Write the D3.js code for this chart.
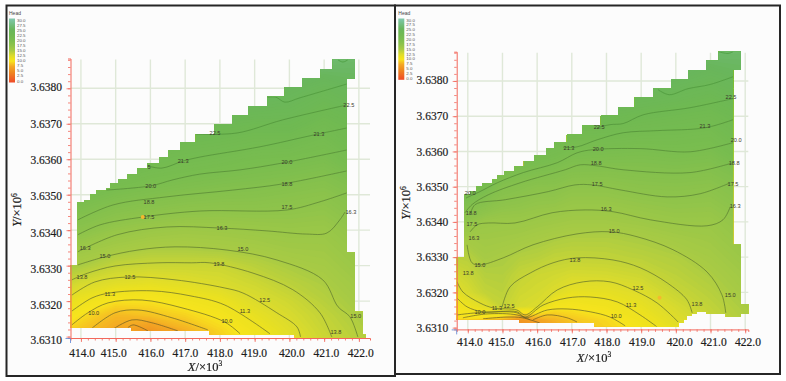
<!DOCTYPE html>
<html>
<head>
<meta charset="utf-8">
<script src="https://cdn.jsdelivr.net/npm/d3@7"></script>
<style>
  html, body { margin: 0; padding: 0; background: #fff; }
  svg { display: block; filter: blur(0.3px); }
</style>
</head>
<body>
<svg id="chart" width="786" height="381"></svg>
<script>
// axis ticks
const xTicks = [414, 415, 416, 417, 418, 419, 420, 421, 422]
const yTicks = [3.631, 3.632, 3.633, 3.634, 3.635, 3.636, 3.637, 3.638]
const legendValues = [30, 27.5, 25, 22.5, 20, 17.5, 15, 12.5, 10, 7.5, 5, 2.5, 0]

// head colour ramp
const headStops = [0, 5, 7.5, 8.75, 10, 11.3, 12.5, 13.8, 15, 17.5, 20, 22.5, 25, 30]
const headColors = ["#ef4a28", "#ef8a20", "#f4a824", "#f6c522", "#f7e41d", "#ece11f", "#dcdc2c", "#c2d338", "#a8cb44", "#8dc34b", "#79bd4f", "#6fb952", "#69b65c", "#80c8ae"]

// model boundary, stepped [x, y]
const leftOutline = [[413.70,3.63125],[413.70,3.63302],[413.90,3.63478],[414.09,3.63485],[414.28,3.63502],[414.45,3.63511],[414.74,3.63519],[414.85,3.63532],[415.07,3.63544],[415.33,3.63558],[415.62,3.63573],[415.92,3.63589],[416.25,3.63606],[416.51,3.63625],[416.86,3.63648],[417.31,3.63671],[417.85,3.63699],[418.35,3.63724],[418.81,3.63750],[419.37,3.63776],[419.87,3.63803],[420.37,3.63828],[420.90,3.63854],[421.25,3.63881],[421.88,3.63828],[421.65,3.63337],[421.88,3.63170],[422.11,3.63105],[422.32,3.63097],[420.16,3.63105],[417.69,3.63116],[415.46,3.63125],[413.70,3.63125]]
const rightOutline = [[413.68,3.63124],[413.68,3.63300],[413.89,3.63477],[414.07,3.63488],[414.26,3.63501],[414.43,3.63510],[414.71,3.63520],[414.85,3.63531],[415.06,3.63543],[415.34,3.63557],[415.62,3.63573],[415.91,3.63590],[416.26,3.63608],[416.50,3.63627],[416.86,3.63648],[417.31,3.63674],[417.84,3.63701],[418.34,3.63726],[418.82,3.63753],[419.35,3.63778],[419.86,3.63805],[420.35,3.63831],[420.88,3.63857],[421.24,3.63883],[421.87,3.63831],[421.65,3.63335],[421.87,3.63167],[422.09,3.63139],[421.87,3.63131],[421.44,3.63139],[420.89,3.63145],[420.61,3.63139],[420.46,3.63133],[420.32,3.63124],[420.22,3.63113],[420.07,3.63103],[417.64,3.63113],[415.49,3.63124],[413.68,3.63124]]

// head field
const gridY = [3.6308, 3.6312, 3.6316, 3.632, 3.6325, 3.633, 3.6335, 3.634, 3.635, 3.636, 3.637, 3.638, 3.639]
const leftGridX = [413.6, 414, 415, 416, 417, 418, 419, 420, 421, 422.2]
const leftHead = [
  [9, 8, 7, 5.5, 7.5, 9, 10.5, 12, 13.3, 14.5],
  [9.5, 8.8, 7.5, 6.3, 8, 9.5, 11, 12.3, 13.6, 14.8],
  [10.8, 9.9, 8.3, 8.75, 9.4, 10.4, 11.7, 12.8, 13.9, 15.2],
  [11.9, 11.2, 10, 10, 10.7, 11.3, 12.5, 13.3, 14.4, 15.6],
  [13.5, 12.9, 12.2, 11.9, 12.2, 12.7, 13.3, 14.2, 14.9, 16],
  [15.2, 15, 13.8, 13.5, 13.5, 13.5, 14.3, 15, 15.4, 16.5],
  [15.8, 16.2, 15.5, 15, 15, 15.2, 15.4, 15.8, 15.9, 17],
  [17, 17.8, 16.8, 16.3, 16, 16.1, 16.3, 16.5, 16.4, 17.5],
  [21, 20.5, 19.7, 19.2, 18.8, 18.5, 18.4, 18.1, 17.8, 19],
  [23, 23, 23, 21.8, 21.3, 20.9, 20.4, 20.2, 19.8, 21.5],
  [25, 25, 25, 25, 23.3, 23.2, 22.8, 22.9, 21.8, 23],
  [26, 26, 26, 26, 27, 26.5, 25.8, 25, 24, 25],
  [27, 27, 27, 27, 27, 27, 27, 27, 27, 26]
]
const rightGridX = [413.6, 414, 414.5, 415, 415.5, 416, 416.5, 417, 418, 419, 420, 421, 422.2]
const rightHead = [
  [9, 9.2, 9, 7.5, 5, 6, 7, 8, 9.2, 10.3, 11.5, 13.2, 14.5],
  [9.6, 9.6, 9.2, 8, 6, 7, 8, 8.8, 9.6, 10.9, 12.3, 13.6, 14.9],
  [10.7, 11.3, 12.2, 13.8, 12.9, 12.6, 10.4, 10.3, 10.8, 11.7, 12.9, 14, 15.2],
  [11.8, 12.8, 13.9, 14.2, 13.3, 13, 12.5, 11.7, 11.8, 12.4, 13.6, 14.4, 15.6],
  [13, 13.6, 14.5, 14.6, 13.8, 13.4, 13.2, 12.9, 13, 13.4, 14.2, 14.9, 16],
  [14.2, 14.4, 15.3, 15, 14.6, 14.4, 14, 13.9, 14, 14.3, 14.7, 15.4, 16.5],
  [15.2, 15.5, 15.8, 15.7, 15.5, 15.2, 14.9, 14.7, 14.7, 15, 15.5, 15.9, 17],
  [17, 17.2, 16.4, 16.3, 16.3, 16.1, 15.9, 15.7, 15.7, 16, 16.4, 16.4, 17.5],
  [21, 21.2, 20.3, 18.8, 18.4, 18, 18, 17.5, 17.5, 17.9, 18, 17.8, 19],
  [23, 23.5, 22.8, 22, 21.6, 21.3, 20.8, 20.2, 20, 19.8, 20, 19.8, 21.5],
  [25, 25, 25, 24.5, 24, 23.6, 23.3, 23, 23, 22.5, 22.1, 21.8, 23],
  [26, 26, 26, 26, 26, 25.8, 25.6, 25.5, 25.5, 25.3, 24.8, 24, 25],
  [27, 27, 27, 27, 27, 27, 27, 27, 27, 27, 27, 26.5, 26]
]

// contour lines [x, y]
const leftContours = [
  [[421.40,3.63880],[421.54,3.63874],[421.68,3.63880]],
  [[419.35,3.63775],[419.61,3.63775],[419.87,3.63761],[420.30,3.63773],[421.65,3.63812]],
  [[417.31,3.63671],[418.49,3.63674],[419.81,3.63711],[421.65,3.63753]],
  [[415.93,3.63581],[416.33,3.63575],[416.94,3.63595],[417.42,3.63606],[419.15,3.63635],[420.68,3.63668],[421.65,3.63688]],
  [[414.72,3.63513],[416.01,3.63525],[416.65,3.63542],[417.42,3.63558],[418.58,3.63570],[419.78,3.63589],[421.65,3.63626]],
  [[413.91,3.63429],[414.92,3.63471],[416.47,3.63494],[418.37,3.63513],[419.78,3.63530],[421.65,3.63567]],
  [[413.91,3.63387],[414.55,3.63415],[415.78,3.63437],[417.42,3.63454],[419.93,3.63457],[420.88,3.63480],[421.65,3.63505]],
  [[413.91,3.63339],[415.04,3.63387],[416.47,3.63409],[418.00,3.63406],[419.35,3.63398],[420.50,3.63389],[421.08,3.63392],[421.45,3.63429],[421.60,3.63451]],
  [[413.91,3.63302],[414.69,3.63325],[415.64,3.63344],[416.71,3.63353],[418.20,3.63344],[419.64,3.63316],[420.96,3.63260],[421.40,3.63184],[421.74,3.63156],[421.97,3.63099]],
  [[413.74,3.63260],[414.20,3.63279],[414.98,3.63299],[416.22,3.63308],[417.19,3.63308],[417.71,3.63308],[418.95,3.63279],[420.10,3.63232],[420.88,3.63167],[421.22,3.63099]],
  [[413.74,3.63217],[414.40,3.63254],[415.35,3.63268],[416.71,3.63260],[418.14,3.63237],[418.66,3.63223],[419.64,3.63167],[420.22,3.63127],[420.32,3.63099]],
  [[413.74,3.63172],[414.32,3.63209],[414.83,3.63223],[416.04,3.63229],[417.14,3.63215],[418.14,3.63189],[419.44,3.63108]],
  [[413.74,3.63133],[414.20,3.63167],[414.78,3.63195],[415.76,3.63203],[416.91,3.63181],[418.14,3.63141],[418.58,3.63108]],
  [[414.26,3.63119],[414.98,3.63167],[415.64,3.63175],[416.62,3.63153],[417.65,3.63119]],
  [[414.89,3.63119],[415.47,3.63147],[416.04,3.63139],[416.79,3.63116]],
  [[415.35,3.63125],[415.50,3.63133],[415.93,3.63116]]
]
const rightContours = [
  [[421.23,3.63883],[421.51,3.63878],[421.65,3.63883]],
  [[419.49,3.63775],[419.81,3.63761],[420.35,3.63778],[420.99,3.63790],[421.65,3.63812]],
  [[417.73,3.63667],[418.10,3.63676],[418.48,3.63679],[419.06,3.63704],[420.41,3.63724],[421.65,3.63750]],
  [[416.75,3.63611],[417.15,3.63613],[417.73,3.63633],[418.48,3.63653],[419.46,3.63659],[420.84,3.63667],[421.65,3.63690]],
  [[413.95,3.63468],[414.35,3.63486],[414.85,3.63511],[415.60,3.63540],[416.58,3.63568],[417.15,3.63596],[417.61,3.63605],[418.97,3.63608],[420.41,3.63599],[421.65,3.63625]],
  [[413.92,3.63426],[414.12,3.63449],[414.59,3.63477],[415.51,3.63511],[416.81,3.63548],[417.24,3.63562],[417.73,3.63559],[418.48,3.63548],[420.41,3.63540],[421.65,3.63568]],
  [[414.07,3.63420],[414.21,3.63449],[415.08,3.63463],[416.32,3.63486],[417.09,3.63505],[417.59,3.63505],[418.39,3.63491],[419.75,3.63471],[420.70,3.63480],[421.57,3.63511]],
  [[414.07,3.63372],[414.27,3.63392],[414.59,3.63397],[415.36,3.63397],[416.43,3.63426],[417.38,3.63434],[418.19,3.63429],[419.26,3.63406],[420.90,3.63389],[421.36,3.63406],[421.57,3.63443]],
  [[413.98,3.63335],[414.12,3.63284],[414.35,3.63278],[415.02,3.63298],[415.88,3.63335],[417.15,3.63366],[418.10,3.63372],[418.88,3.63358],[419.92,3.63321],[420.90,3.63258],[421.33,3.63193],[421.44,3.63142]],
  [[414.99,3.63159],[415.22,3.63216],[415.80,3.63255],[416.46,3.63284],[417.15,3.63298],[418.19,3.63292],[418.97,3.63270],[419.75,3.63227],[420.32,3.63179],[420.47,3.63142]],
  [[413.69,3.63230],[413.86,3.63201],[414.35,3.63170],[414.73,3.63156],[415.42,3.63150],[415.65,3.63136],[416.00,3.63159],[416.58,3.63207],[417.33,3.63230],[418.10,3.63230],[418.77,3.63207],[419.46,3.63170],[420.07,3.63116]],
  [[413.69,3.63184],[413.98,3.63159],[414.44,3.63145],[415.42,3.63145],[415.65,3.63130],[416.17,3.63164],[416.86,3.63184],[417.53,3.63187],[418.31,3.63173],[418.97,3.63136],[419.46,3.63102]],
  [[413.69,3.63136],[414.27,3.63142],[415.42,3.63142],[415.65,3.63128],[416.29,3.63150],[416.86,3.63153],[417.53,3.63145],[418.10,3.63130],[418.54,3.63105]],
  [[413.86,3.63128],[414.56,3.63139],[415.42,3.63136],[415.80,3.63122]],
  [[415.88,3.63122],[416.29,3.63136],[416.86,3.63128],[417.15,3.63116]],
  [[414.44,3.63125],[415.13,3.63130],[415.57,3.63128],[416.08,3.63113]]
]

// contour labels [text, x, y]
const leftLabels = [["22.5",417.86,3.63674],["22.5",421.71,3.63753],["21.3",420.85,3.63671],["21.3",416.94,3.63595],["20.0",419.93,3.63592],["20.0",416.01,3.63525],["5",415.96,3.63578],["18.8",419.93,3.63530],["18.8",415.96,3.63480],["17.5",419.93,3.63465],["17.5",415.96,3.63437],["16.3",421.77,3.63451],["16.3",418.06,3.63406],["16.3",414.12,3.63350],["15.0",418.66,3.63347],["15.0",414.69,3.63327],["15.0",421.91,3.63158],["13.8",417.97,3.63305],["13.8",414.03,3.63268],["13.8",421.34,3.63113],["12.5",415.41,3.63268],["12.5",419.29,3.63203],["11.3",414.83,3.63220],["11.3",418.72,3.63172],["10.0",414.37,3.63167],["10.0",418.20,3.63144]]
const rightLabels = [["22.5",417.79,3.63670],["22.5",421.59,3.63753],["21.3",420.84,3.63673],["21.3",416.92,3.63611],["20.0",421.74,3.63633],["20.0",417.76,3.63608],["20.0",414.07,3.63483],["18.8",417.70,3.63568],["18.8",421.68,3.63568],["18.8",414.10,3.63426],["17.5",417.73,3.63508],["17.5",421.65,3.63508],["17.5",414.12,3.63395],["16.3",417.99,3.63437],["16.3",421.71,3.63446],["16.3",414.18,3.63355],["15.0",418.22,3.63375],["15.0",414.35,3.63278],["15.0",421.57,3.63193],["13.8",417.09,3.63292],["13.8",414.01,3.63255],["13.8",420.61,3.63167],["12.5",418.91,3.63213],["12.5",415.19,3.63162],["11.3",418.71,3.63164],["11.3",414.84,3.63156],["10.0",418.28,3.63133],["10.0",414.35,3.63145]]

// observation wells
const leftWells = [[415.78,3.63437]]
const rightWells = [[419.53,3.63185]]

const svg = d3.select("#chart")
const serif = "'Liberation Serif', serif"
const axisRed = "#f2685c"
const headColor = d3.scaleLinear().domain(headStops).range(headColors).clamp(true)

function drawFrame(left, top, right, bottom){
  svg.append("rect")
  .attr("x", left).attr("y", top)
  .attr("width", right - left).attr("height", bottom - top)
  .attr("fill", "#fcfcfc")
  .attr("stroke", "#262626")
  .attr("stroke-width", 2)
}

function drawField(g, p, x, y){
  // grid values sit on cell centres, so map cell space back to data space
  const n = p.gridX.length, m = gridY.length
  const col = d3.scaleLinear().domain(d3.range(n).map(i => i + 0.5)).range(p.gridX).clamp(true)
  const row = d3.scaleLinear().domain(d3.range(m).map(i => i + 0.5)).range(gridY).clamp(true)
  const toPixels = d3.geoTransform({
    point: function(u, v) { this.stream.point(x(col(u)), y(row(v))) }
  })
  const path = d3.geoPath(toPixels)
  const contours = d3.contours().size([n, m]).thresholds(d3.range(3, 30, 0.2))(p.head.flat())

  const outline = d3.line().x(d => x(d[0])).y(d => y(d[1])).curve(d3.curveStepAfter)
  const clipId = p.name + "-clip"
  g.append("clipPath").attr("id", clipId).append("path").attr("d", outline(p.outline) + "Z")

  g.append("g")
  .attr("clip-path", "url(#" + clipId + ")")
  .selectAll("path")
  .data(contours)
  .enter().append("path")
  .attr("d", path)
  .attr("fill", d => headColor(d.value))

  // contour lines, green up top and browner towards the low end
  const line = d3.line().x(d => x(d[0])).y(d => y(d[1])).curve(d3.curveCatmullRom.alpha(0.5))
  const lineColor = d3.scaleLinear().domain([0, p.contours.length - 1]).range(["#4a9a3c", "#6e5a26"])
  g.append("g")
  .attr("clip-path", "url(#" + clipId + ")")
  .selectAll("path")
  .data(p.contours)
  .enter().append("path")
  .attr("d", line)
  .attr("fill", "none")
  .attr("stroke", (d, i) => lineColor(i))
  .attr("stroke-opacity", 0.8)
  .attr("stroke-width", 0.9)

  g.selectAll(".well")
  .data(p.wells)
  .enter().append("circle")
  .attr("class", "well")
  .attr("cx", d => x(d[0]))
  .attr("cy", d => y(d[1]))
  .attr("r", 2)
  .attr("fill", "#f5b82e")

  g.selectAll(".contour-label")
  .data(p.labels)
  .enter().append("text")
  .attr("class", "contour-label")
  .attr("x", d => x(d[1]))
  .attr("y", d => y(d[2]))
  .attr("dy", "0.35em")
  .attr("text-anchor", "middle")
  .attr("font-family", "'Liberation Sans', sans-serif")
  .attr("font-size", 5.6)
  .attr("fill", "#3a3a2c")
  .text(d => d[0])
}

function styleAxis(a){
  a.select(".domain").attr("stroke", axisRed).attr("stroke-width", 1)
  a.selectAll("line").attr("stroke", axisRed).attr("stroke-width", 0.8)
  a.selectAll("text")
  .attr("font-family", serif).attr("font-size", 11.5)
  .attr("fill", "#1c1c1c").attr("stroke", "#1c1c1c").attr("stroke-width", 0.2)
}

function drawAxes(g, p, x, y){
  const bottom = y.range()[0], left = x.range()[0]

  // pale grid
  g.selectAll(".grid-x")
  .data(xTicks)
  .enter().append("line")
  .attr("x1", d => x(d)).attr("x2", d => x(d))
  .attr("y1", y.range()[1] + 1).attr("y2", bottom)
  .attr("stroke", "#dfe8d8").attr("stroke-width", 1.4)
  g.selectAll(".grid-y")
  .data(yTicks.slice(1))
  .enter().append("line")
  .attr("x1", left).attr("x2", x.range()[1])
  .attr("y1", d => y(d)).attr("y2", d => y(d))
  .attr("stroke", "#dfe8d8").attr("stroke-width", 1.4)

  // minor ticks first, labelled majors on top
  const xMinor = d3.range(414, 422.01, 0.2)
  const yMinor = d3.range(3.631, 3.63881, 0.0002)
  const axes = g.append("g").attr("class", "axes")

  axes.append("g")
  .attr("transform", "translate(0," + bottom + ")")
  .call(d3.axisBottom(x).tickValues(xMinor).tickSize(2.5).tickFormat(""))
  .call(styleAxis)
  axes.append("g")
  .attr("transform", "translate(" + left + ",0)")
  .call(d3.axisLeft(y).tickValues(yMinor).tickSize(2.5).tickFormat(""))
  .call(styleAxis)

  axes.append("g")
  .attr("transform", "translate(0," + bottom + ")")
  .call(d3.axisBottom(x).tickValues(xTicks).tickSize(4).tickPadding(p.xPadding).tickFormat(d3.format(".1f")))
  .call(styleAxis)
  .call(a => a.select(".domain").remove())
  .selectAll("text").attr("dx", (d, i) => p.xNudge[i])

  axes.append("g")
  .attr("transform", "translate(" + left + ",0)")
  .call(d3.axisLeft(y).tickValues(yTicks).tickSize(4).tickPadding(4.5).tickFormat(d3.format(".4f")))
  .call(styleAxis)
  .call(a => a.select(".domain").remove())
  .selectAll("text").attr("dy", (d, i) => (0.32 + p.yNudge[i] / 11.5) + "em")

  // blue marker at the origin
  axes.append("path")
  .attr("d", "M" + (left - 5) + "," + (bottom + 0.5) + "H" + left + "V" + (bottom + 5))
  .attr("fill", "none").attr("stroke", "#6b8fd6").attr("stroke-width", 0.9)
}

function drawTitle(g, cx, cy, letter, power, rotate){
  const t = g.append("text")
  .attr("transform", "translate(" + cx + "," + cy + ")" + (rotate ? " rotate(-90)" : ""))
  .attr("text-anchor", "middle")
  .attr("font-family", serif)
  .attr("font-size", 12.5)
  .attr("fill", "#1c1c1c")
  .attr("stroke", "#1c1c1c")
  .attr("stroke-width", 0.2)
  t.append("tspan").attr("font-style", "italic").text(letter)
  t.append("tspan").text("/×10")
  t.append("tspan").attr("font-size", 7.5).attr("dy", -4.5).text(power)
}

function drawLegend(g, p){
  g.append("text")
  .attr("x", p.legendX).attr("y", 15)
  .attr("font-family", "'Liberation Sans', sans-serif").attr("font-size", 5)
  .attr("fill", "#444").text("Head")

  const ly = d3.scaleLinear().domain([30, 0]).range([p.legendTop, p.legendBottom])
  const id = p.name + "-ramp"
  g.append("linearGradient")
  .attr("id", id).attr("x1", 0).attr("x2", 0).attr("y1", 1).attr("y2", 0)
  .selectAll("stop")
  .data(headStops)
  .enter().append("stop")
  .attr("offset", d => d / 30)
  .attr("stop-color", d => headColor(d))

  g.append("rect")
  .attr("x", p.legendX).attr("y", p.legendTop - 1.5)
  .attr("width", 6).attr("height", p.legendBottom - p.legendTop + 3)
  .attr("fill", "url(#" + id + ")")

  g.selectAll(".legend-label")
  .data(legendValues)
  .enter().append("text")
  .attr("x", p.legendX + 8)
  .attr("y", d => ly(d))
  .attr("dy", "0.35em")
  .attr("font-family", "'Liberation Sans', sans-serif")
  .attr("font-size", 4.4)
  .attr("fill", "#555")
  .text(d => d3.format(".1f")(d))
}

function drawPanel(p){
  const g = svg.append("g").attr("class", p.name)
  const x = d3.scaleLinear().domain(p.xDomain).range(p.xRange)
  const y = d3.scaleLinear().domain(p.yDomain).range(p.yRange)
  drawAxes(g, p, x, y)
  drawField(g, p, x, y)
  g.select(".axes").raise()
  drawLegend(g, p)
  drawTitle(g, p.xTitle[0], p.xTitle[1], "X", "3", false)
  drawTitle(g, p.yTitle[0], p.yTitle[1], "Y", "6", true)
}

drawFrame(6.5, 5.5, 395, 376)
drawFrame(395, 5.5, 780, 374)

drawPanel({
  name: "left",
  xDomain: [413.7, 422.32], xRange: [70.5, 370],
  yDomain: [3.63096, 3.63884], yRange: [338, 58.5],
  outline: leftOutline, gridX: leftGridX, head: leftHead,
  contours: leftContours, labels: leftLabels, wells: leftWells,
  xPadding: 7, xNudge: [0.7, -2.4, 0.4, -0.3, -0.3, -1, 2, 1.7, 1.3],
  yNudge: [3.3, 3.3, 2.7, 2.7, 1.5, 0.3, -0.4, -1.3],
  xTitle: [205, 370.5], yTitle: [21, 210],
  legendX: 9, legendTop: 20, legendBottom: 81
})

drawPanel({
  name: "right",
  xDomain: [413.68, 422.09], xRange: [456.7, 748.3],
  yDomain: [3.63095, 3.63883], yRange: [329.4, 51.7],
  outline: rightOutline, gridX: rightGridX, head: rightHead,
  contours: rightContours, labels: rightLabels, wells: rightWells,
  xPadding: 4, xNudge: [1.6, -1.6, 0.7, 0.6, 0.4, 0.3, 3.4, 2.7, 2.3],
  yNudge: [0, 0, -0.4, 0, 0, 0, -0.4, -0.7],
  xTitle: [594, 361.5], yTitle: [410, 203],
  legendX: 398.3, legendTop: 20, legendBottom: 78.3
})
</script>
</body>
</html>
